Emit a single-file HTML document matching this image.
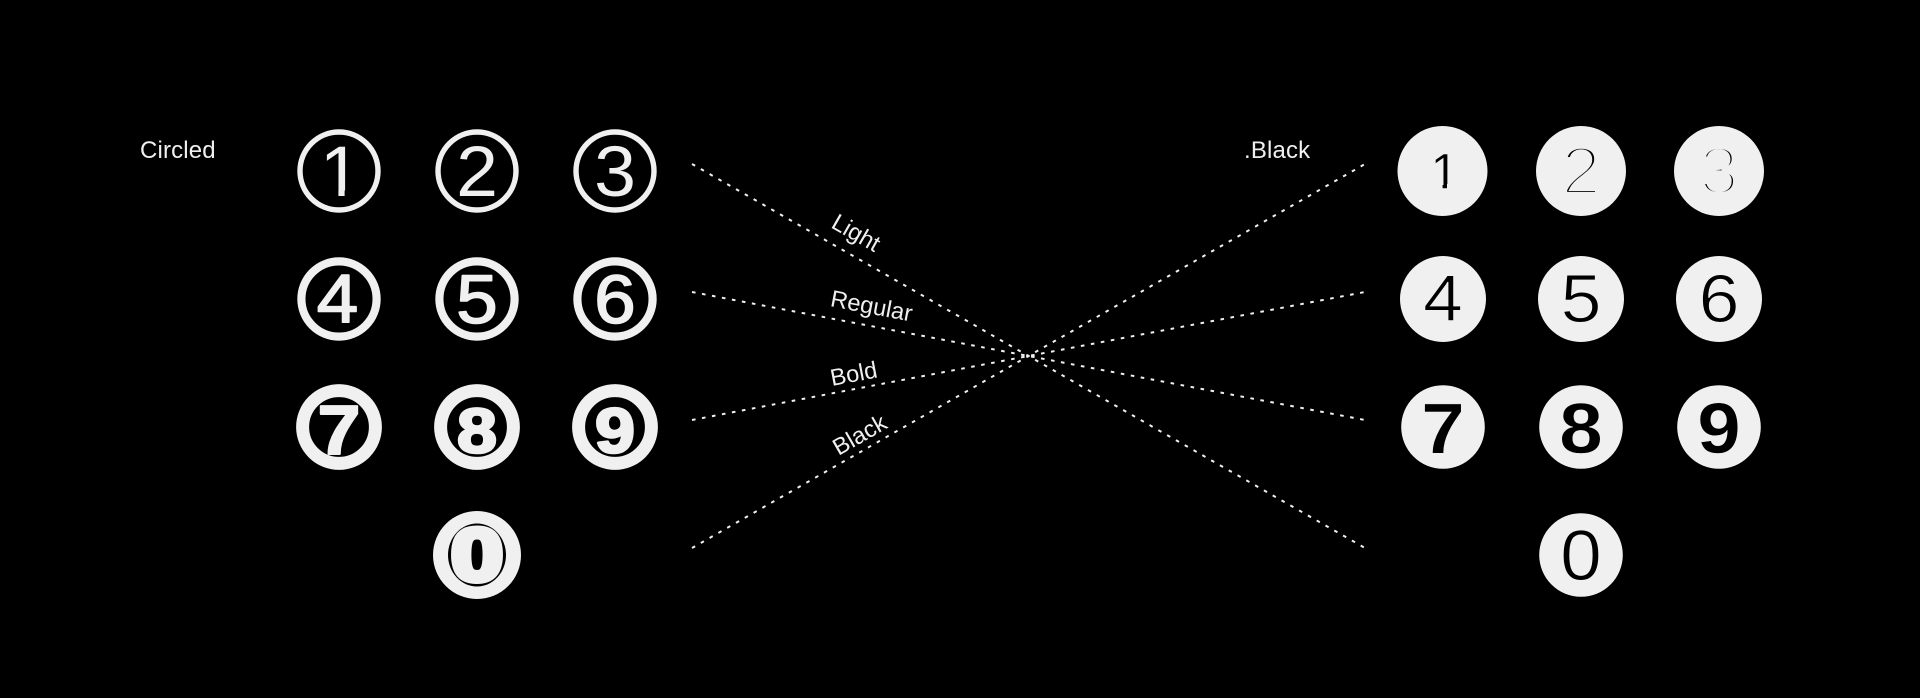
<!DOCTYPE html>
<html><head><meta charset="utf-8"><style>
html,body{margin:0;padding:0;background:#000;width:1920px;height:698px;overflow:hidden}
svg{display:block}
text{font-family:"Liberation Sans",sans-serif}
.l{font-size:24px;fill:#f0f0f0;letter-spacing:.15px}
.r{font-size:23.6px;fill:#f0f0f0}
.d{font-size:71px;text-anchor:middle;fill:#f0f0f0}
.t{font-size:71px;text-anchor:middle;fill:#000}
.b{font-weight:700}
.j{stroke-linejoin:round;stroke:#f0f0f0}
</style></head><body>
<svg width="1920" height="698" viewBox="0 0 1920 698" xmlns="http://www.w3.org/2000/svg">
<rect width="1920" height="698" fill="#000"/>
<text class="l" x="140" y="158">Circled</text>
<text class="l" x="1244" y="158">.Black</text>

<g fill="none" stroke="#f0f0f0">
<circle cx="339" cy="171" r="39" stroke-width="5.4"/>
<circle cx="477" cy="171" r="39" stroke-width="5.4"/>
<circle cx="615" cy="171" r="39" stroke-width="5.4"/>
<circle cx="339" cy="299" r="37.6" stroke-width="8.2"/>
<circle cx="477" cy="299" r="37.6" stroke-width="8.2"/>
<circle cx="615" cy="299" r="37.6" stroke-width="8.2"/>
<circle cx="339" cy="427" r="36.4" stroke-width="13"/>
<circle cx="477" cy="427" r="36.4" stroke-width="13"/>
<circle cx="615" cy="427" r="36.4" stroke-width="13"/>
</g>
<text class="d" transform="translate(340.5 196) scale(1.05 1)">1</text>
<rect x="318" y="190.5" width="20.4" height="7" fill="#000"/>
<rect x="344.6" y="190.5" width="18" height="7" fill="#000"/>
<text class="d" transform="translate(477 196) scale(1.06 1)">2</text>
<text class="d" transform="translate(615 196) scale(1.06 1)">3</text>
<text class="d j" transform="translate(337.5 322) scale(1.08 1)" stroke-width="1.6" style="font-size:69px">4</text>
<text class="d j" transform="translate(477 323) scale(1.08 1)" stroke-width="1.6" style="font-size:69px">5</text>
<text class="d j" transform="translate(615 323) scale(1.08 1)" stroke-width="1.6" style="font-size:69px">6</text>
<text class="d b j" transform="translate(339 454) scale(1.1 1)" stroke-width="2" style="font-size:70px">7</text>
<text class="d b j" transform="translate(477 452.5) scale(1.14 1)" stroke-width="2.6" style="font-size:63px">8</text>
<text class="d b j" transform="translate(615 452.5) scale(1.14 1)" stroke-width="2.6" style="font-size:63px">9</text>

<circle cx="477" cy="555" r="44" fill="#f0f0f0"/>
<ellipse cx="477" cy="555" rx="29" ry="31.5" fill="#000"/>
<text class="d b j" transform="translate(477 580.5) scale(1.26 1)" stroke-width="6" style="font-size:74px">0</text>

<g fill="#f0f0f0">
<circle cx="1442.5" cy="171" r="45"/>
<circle cx="1581" cy="171" r="45"/>
<circle cx="1719" cy="171" r="45"/>
<circle cx="1443" cy="299" r="43"/>
<circle cx="1581" cy="299" r="43"/>
<circle cx="1719" cy="299" r="43"/>
<circle cx="1443" cy="427" r="41.8"/>
<circle cx="1581" cy="427" r="41.8"/>
<circle cx="1719" cy="427" r="41.8"/>
<circle cx="1581" cy="555" r="41.8"/>
</g>
<text class="t" x="1444.5" y="188.5" stroke="#f0f0f0" stroke-width=".5" style="font-size:50px">1</text>
<rect x="1430" y="184" width="12.6" height="6" fill="#f0f0f0"/>
<rect x="1447" y="184" width="13" height="6" fill="#f0f0f0"/>
<text class="t" transform="translate(1581 194) scale(1.04 1)" stroke="#f0f0f0" stroke-width="4.2" style="font-size:68px">2</text>
<text class="t" transform="translate(1719 194) scale(1.04 1)" stroke="#f0f0f0" stroke-width="4.9" style="font-size:68px">3</text>
<text class="t" transform="translate(1443 321) scale(1.08 1)" stroke="#f0f0f0" stroke-width="1" style="font-size:66px">4</text>
<text class="t" transform="translate(1581 322) scale(1.08 1)" stroke="#f0f0f0" stroke-width="1" style="font-size:68px">5</text>
<text class="t" transform="translate(1719 322) scale(1.08 1)" stroke="#f0f0f0" stroke-width="1" style="font-size:68px">6</text>
<text class="t b" transform="translate(1443 453) scale(1.1 1)" stroke="#f0f0f0" stroke-width=".5" style="font-size:71px">7</text>
<text class="t b" transform="translate(1581 453) scale(1.1 1)" stroke="#f0f0f0" stroke-width=".5" style="font-size:71px">8</text>
<text class="t b" transform="translate(1719 453) scale(1.1 1)" stroke="#f0f0f0" stroke-width=".5" style="font-size:71px">9</text>
<text class="t" transform="translate(1581 580) scale(1.05 1)" stroke="#f0f0f0" stroke-width=".9" style="font-size:71px">0</text>

<g stroke="#f0f0f0" stroke-width="2" fill="none">
<line x1="692" y1="164" x2="1365" y2="548" stroke-dasharray="3.6 6.53"/>
<line x1="692" y1="292" x2="1365" y2="420" stroke-dasharray="3.6 6.55"/>
<line x1="692" y1="420" x2="1365" y2="292" stroke-dasharray="3.6 6.55"/>
<line x1="692" y1="548" x2="1365" y2="164" stroke-dasharray="3.6 6.53"/>
</g>
<text class="r" transform="translate(830 227) rotate(29.7)">Light</text>
<text class="r" transform="translate(829.5 306) rotate(10.8)">Regular</text>
<text class="r" transform="translate(832 386) rotate(-10.8)">Bold</text>
<text class="r" transform="translate(838.5 456) rotate(-29.7)">Black</text>
</svg>
</body></html>
